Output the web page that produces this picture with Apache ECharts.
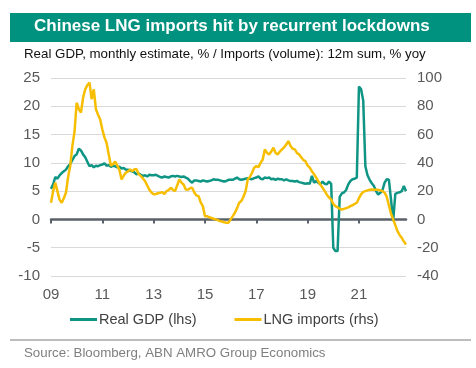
<!DOCTYPE html>
<html>
<head>
<meta charset="utf-8">
<script src="https://cdn.jsdelivr.net/npm/echarts@6/dist/echarts.min.js"></script>
<style>
html,body{margin:0;padding:0;background:#fff;}
#c{width:476px;height:368px;}
</style>
</head>
<body>
<div id="c"></div>
<script>
// Monthly categories: Jan 2009 .. Nov 2022
var startYear = 2009;
var nMonths = 167;
var months = [];
for (var i = 0; i < nMonths; i++) {
  var y = startYear + Math.floor(i / 12);
  var m = (i % 12) + 1;
  months.push(y + '-' + (m < 10 ? '0' + m : m));
}

// Real GDP, monthly estimate, % yoy (lhs)
var gdp2009 = [5.4, 6.2, 7.5, 7.2, 7.8, 8.2, 8.5, 8.8, 9.4, 9.8, 10.5, 11.2];
var gdp2010 = [11.5, 12.5, 12.2, 11.5, 11.0, 10.2, 9.4, 9.6, 9.2, 9.5, 9.4, 9.6];
var gdp2011 = [9.7, 9.9, 9.5, 9.6, 9.3, 9.5, 9.4, 9.2, 9.3, 9.0, 9.1, 8.8];
var gdp2012 = [8.8, 8.6, 8.5, 8.3, 8.0, 8.1, 7.9, 7.7, 7.8, 7.6, 7.9, 7.8];
var gdp2013 = [7.8, 7.9, 7.7, 7.5, 7.4, 7.6, 7.5, 7.4, 7.6, 7.7, 7.6, 7.7];
var gdp2014 = [7.6, 7.5, 7.6, 7.4, 7.2, 6.8, 6.5, 6.9, 6.9, 6.8, 6.7, 6.9];
var gdp2015 = [6.8, 6.7, 6.8, 6.9, 7.1, 7.0, 7.0, 6.9, 6.8, 6.7, 6.8, 7.0];
var gdp2016 = [7.0, 7.0, 7.2, 7.4, 7.1, 7.0, 7.1, 7.2, 7.3, 7.2, 7.1, 7.3];
var gdp2017 = [7.4, 7.6, 7.2, 7.1, 7.4, 7.3, 7.4, 7.1, 7.2, 7.0, 7.2, 7.1];
var gdp2018 = [7.1, 6.9, 7.1, 6.9, 6.8, 6.8, 6.7, 6.8, 6.6, 6.5, 6.4, 6.3];
var gdp2019 = [6.4, 6.3, 7.7, 6.5, 6.8, 6.5, 6.2, 6.7, 6.3, 6.2, 6.7, 6.3];
var gdp2020 = [-5.0, -5.6, -5.6, 4.0, 4.6, 4.8, 5.2, 6.2, 6.8, 7.1, 7.2, 7.4];
var gdp2021 = [23.5, 23.0, 21.0, 9.4, 7.8, 7.0, 6.4, 5.9, 5.0, 4.4, 4.7, 5.2];
var gdp2022 = [6.5, 7.1, 7.0, 3.5, -0.3, 4.5, 4.7, 4.8, 5.0, 5.9, 5.0];

// LNG imports (volume), 12m sum, % yoy (rhs)
var lng2009 = [11.8, 20, 26, 20, 14, 11.8, 15, 19, 30, 38, 52, 62];
var lng2010 = [82.5, 78, 75.5, 86, 92, 95, 96.7, 85, 92, 78, 74, 70.7];
var lng2011 = [63.6, 58, 54, 46, 38, 39, 41, 38, 35, 28.3, 31, 33];
var lng2012 = [34, 35.4, 34, 35.4, 35.4, 32, 30.6, 29, 27, 24, 21, 19];
var lng2013 = [17.7, 18, 18.5, 18.9, 19.3, 18, 20, 20.7, 22.4, 21, 20, 24];
var lng2014 = [28.3, 26, 24.7, 21.2, 21, 22, 22.4, 19, 17, 16.5, 12, 9.4];
var lng2015 = [2.3, 2.3, 1.5, 1.0, 0.5, 0, -0.5, -1.2, -1.5, -2, -2.3, -2.3];
var lng2016 = [0, 2.3, 4.7, 8, 11.8, 13, 16, 20, 28.3, 30, 33, 36.6];
var lng2017 = [37.7, 37, 40, 42.4, 49.5, 47, 46, 48, 50.7, 47, 46, 48];
var lng2018 = [49.5, 51, 53, 55.4, 52, 50, 49.5, 47, 46, 44, 42, 41.2];
var lng2019 = [38, 36.6, 34, 32, 29.5, 27, 24.5, 22.4, 20, 17.5, 15.5, 14.1];
var lng2020 = [11, 9.4, 8.5, 7.5, 7, 7.5, 8, 8.5, 9.4, 10, 11, 11.8];
var lng2021 = [15, 17.7, 19.5, 20, 20.5, 21, 21.2, 21, 21, 21, 20.5, 20];
var lng2022 = [18.9, 16, 10, 4, 0, -4, -8.3, -11, -13, -15.5, -17.7];

var gdp = [].concat(gdp2009, gdp2010, gdp2011, gdp2012, gdp2013, gdp2014, gdp2015,
  gdp2016, gdp2017, gdp2018, gdp2019, gdp2020, gdp2021, gdp2022);
var lng = [].concat(lng2009, lng2010, lng2011, lng2012, lng2013, lng2014, lng2015,
  lng2016, lng2017, lng2018, lng2019, lng2020, lng2021, lng2022);

var leftTicks = {min: -10, max: 25, interval: 5};
var rightTicks = {min: -40, max: 100, interval: 20};

var TEAL = '#0f9583';
var YELLOW = '#f7be00';
var FONT = 'Liberation Sans, Arial, sans-serif';

var chart = echarts.init(document.getElementById('c'), null, {renderer: 'canvas'});
chart.setOption({
  animation: false,
  backgroundColor: '#ffffff',
  graphic: [
    {type: 'rect', shape: {x: 10, y: 13, width: 461, height: 29}, style: {fill: '#00927f'}, z: 0},
    {type: 'line', shape: {x1: 10, y1: 340, x2: 471, y2: 340}, style: {stroke: '#bdbdbd', lineWidth: 2}}
  ],
  title: [
    {text: 'Chinese LNG imports hit by recurrent lockdowns', left: 34, top: 18, padding: 0,
      textStyle: {color: '#ffffff', fontSize: 17, fontWeight: 'bold', fontFamily: FONT}, z: 10},
    {text: 'Real GDP, monthly estimate, % / Imports (volume): 12m sum, % yoy', left: 24, top: 48, padding: 0,
      textStyle: {color: '#111111', fontSize: 13.3, fontWeight: 'normal', fontFamily: FONT}},
    {text: 'Source: Bloomberg, ABN AMRO Group Economics', left: 24, top: 347, padding: 0,
      textStyle: {color: '#7f7f7f', fontSize: 13.3, fontWeight: 'normal', fontFamily: FONT}}
  ],
  legend: {
    left: 70, top: 312, itemWidth: 27, itemHeight: 3, itemGap: 38, icon: 'rect', padding: 0,
    textStyle: {color: '#404040', fontSize: 14.5, fontFamily: FONT, padding: [0, 0, 0, -3]},
    data: ['Real GDP (lhs)', 'LNG imports (rhs)']
  },
  grid: {left: 51, right: 70, top: 78, bottom: 92, containLabel: false},
  xAxis: [
    {type: 'category', data: months, boundaryGap: false, position: 'bottom',
      axisLine: {show: false, onZero: false}, axisTick: {show: false},
      axisLabel: {interval: 23, margin: 11, color: '#595959', fontSize: 15, fontFamily: FONT,
        formatter: function (v) { return v.substring(2, 4); }},
      splitLine: {show: false}},
    {type: 'category', data: months, boundaryGap: false, position: 'bottom',
      axisLine: {show: true, onZero: true, onZeroAxisIndex: 0, lineStyle: {color: '#5b6169', width: 2.5}},
      axisTick: {show: true, interval: 23, length: 4, lineStyle: {color: '#5b6169', width: 2}},
      axisLabel: {show: false}, splitLine: {show: false}}
  ],
  yAxis: [
    {type: 'value', min: leftTicks.min, max: leftTicks.max, interval: leftTicks.interval, position: 'left',
      axisLine: {show: false}, axisTick: {show: false},
      axisLabel: {margin: 11, color: '#595959', fontSize: 15, fontFamily: FONT},
      splitLine: {show: true, lineStyle: {color: '#d9d9d9', width: 1}}},
    {type: 'value', min: rightTicks.min, max: rightTicks.max, interval: rightTicks.interval, position: 'right',
      axisLine: {show: false}, axisTick: {show: false},
      axisLabel: {margin: 11, color: '#595959', fontSize: 15, fontFamily: FONT},
      splitLine: {show: false}}
  ],
  series: [
    {name: 'Real GDP (lhs)', type: 'line', xAxisIndex: 0, yAxisIndex: 0, data: gdp,
      symbol: 'none', lineStyle: {color: TEAL, width: 2.5}, itemStyle: {color: TEAL}, z: 3},
    {name: 'LNG imports (rhs)', type: 'line', xAxisIndex: 0, yAxisIndex: 1, data: lng,
      symbol: 'none', lineStyle: {color: YELLOW, width: 2.5}, itemStyle: {color: YELLOW}, z: 4}
  ]
});
</script>
</body>
</html>
